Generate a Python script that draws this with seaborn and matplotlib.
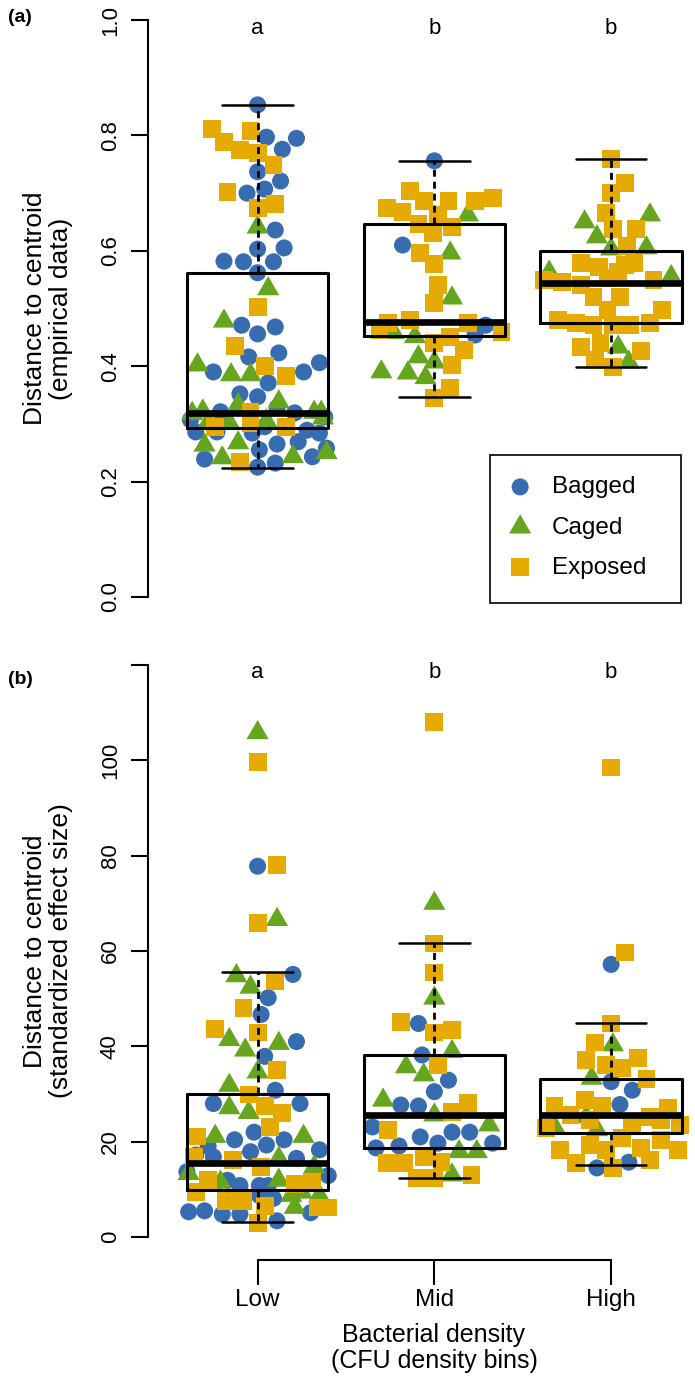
import pandas as pd
import seaborn as sns
import matplotlib.pyplot as plt
from matplotlib.patches import Rectangle

bins = ["Low", "Mid", "High"]
species = ["Bagged", "Caged", "Exposed"]
letters = ["a", "b", "b"]
colors = {"Bagged": "#386CB0", "Caged": "#66A61E", "Exposed": "#E6AB02"}

# (jitter offset, value) pairs
# panel (a): empirical data
a_low_bagged = [(0.00, 0.853), (0.05, 0.797), (0.22, 0.795), (0.14, 0.776), (0.00, 0.737), (0.13, 0.721),
                (0.04, 0.707), (-0.06, 0.700), (0.10, 0.636), (0.00, 0.603), (0.15, 0.605), (-0.19, 0.582),
                (-0.08, 0.581), (0.09, 0.581), (0.00, 0.562), (-0.09, 0.471), (0.00, 0.456), (0.10, 0.468),
                (-0.05, 0.416), (0.12, 0.423), (-0.25, 0.390), (0.26, 0.390), (0.35, 0.406), (0.06, 0.371),
                (-0.10, 0.352), (0.00, 0.347), (-0.21, 0.321), (0.11, 0.328), (0.21, 0.319), (-0.38, 0.307),
                (0.38, 0.312), (-0.35, 0.286), (-0.23, 0.286), (0.04, 0.295), (-0.03, 0.284), (0.28, 0.289),
                (0.35, 0.284), (0.11, 0.265), (0.23, 0.269), (0.01, 0.255), (0.39, 0.258), (-0.30, 0.239),
                (0.31, 0.243), (0.10, 0.232), (0.00, 0.225)]
a_low_caged = [(0.00, 0.641), (0.06, 0.534), (-0.19, 0.478), (-0.34, 0.402), (-0.15, 0.385), (-0.04, 0.385),
               (0.12, 0.338), (-0.11, 0.333), (-0.37, 0.318), (-0.31, 0.322), (0.32, 0.320), (0.36, 0.320),
               (-0.28, 0.302), (-0.16, 0.302), (0.05, 0.305), (0.37, 0.310), (-0.30, 0.263), (-0.11, 0.267),
               (-0.20, 0.241), (0.20, 0.243), (0.39, 0.250)]
a_low_exposed = [(-0.26, 0.811), (-0.04, 0.808), (-0.19, 0.789), (-0.10, 0.775), (0.00, 0.770), (0.09, 0.749),
                 (-0.17, 0.702), (0.00, 0.674), (0.10, 0.681), (0.00, 0.503), (-0.13, 0.435), (0.04, 0.400),
                 (0.16, 0.383), (-0.04, 0.321), (-0.04, 0.302), (-0.24, 0.295), (0.16, 0.295), (-0.10, 0.234)]
a_mid_bagged = [(0.00, 0.756), (-0.18, 0.610), (0.29, 0.471), (0.23, 0.454)]
a_mid_caged = [(0.19, 0.662), (0.09, 0.596), (0.10, 0.518), (-0.23, 0.458), (-0.11, 0.451), (-0.09, 0.416),
               (0.00, 0.407), (-0.15, 0.388), (-0.05, 0.380), (-0.30, 0.390)]
a_mid_exposed = [(-0.14, 0.704), (-0.27, 0.674), (-0.18, 0.667), (-0.06, 0.686), (0.08, 0.686), (0.23, 0.686),
                 (0.33, 0.692), (0.02, 0.662), (-0.09, 0.646), (0.10, 0.641), (-0.01, 0.631), (-0.08, 0.596),
                 (0.00, 0.577), (0.02, 0.541), (0.00, 0.510), (-0.26, 0.475), (-0.14, 0.480), (0.19, 0.475),
                 (0.38, 0.459), (0.09, 0.451), (-0.31, 0.463), (0.00, 0.440), (0.17, 0.428), (0.10, 0.402),
                 (0.09, 0.362), (0.00, 0.345)]
a_high_bagged = []
a_high_caged = [(-0.15, 0.650), (0.22, 0.662), (-0.08, 0.624), (0.00, 0.603), (0.20, 0.605), (-0.35, 0.563),
                (0.34, 0.555), (0.04, 0.433), (0.10, 0.407)]
a_high_exposed = [(0.00, 0.759), (0.08, 0.718), (0.00, 0.700), (-0.03, 0.666), (0.14, 0.638), (0.01, 0.638),
                  (0.09, 0.608), (-0.17, 0.579), (-0.07, 0.572), (0.08, 0.575), (0.13, 0.579), (-0.38, 0.549),
                  (-0.28, 0.546), (-0.17, 0.541), (-0.02, 0.553), (0.04, 0.563), (0.24, 0.549), (-0.10, 0.520),
                  (0.05, 0.520), (-0.02, 0.497), (0.29, 0.497), (-0.30, 0.480), (-0.20, 0.475), (-0.10, 0.471),
                  (0.01, 0.471), (0.11, 0.471), (0.22, 0.475), (-0.17, 0.433), (-0.06, 0.440), (0.17, 0.426),
                  (-0.09, 0.411), (0.01, 0.399)]

# panel (b): standardized effect size
b_low_bagged = [(0.00, 77.8), (0.20, 55.1), (0.06, 50.2), (0.02, 46.7), (0.22, 41.0), (0.04, 37.9),
                (0.10, 30.8), (-0.25, 28.0), (0.24, 28.0), (-0.02, 22.0), (-0.13, 20.4), (0.05, 19.3),
                (0.15, 20.4), (-0.28, 19.0), (-0.04, 17.9), (-0.25, 16.8), (0.22, 16.5), (0.35, 18.3),
                (-0.35, 17.2), (-0.40, 13.7), (0.40, 12.9), (-0.10, 10.8), (0.01, 10.8), (0.06, 10.8),
                (0.24, 10.8), (-0.17, 11.9), (0.01, 8.7), (0.09, 8.1), (-0.39, 5.3), (-0.30, 5.5),
                (-0.20, 4.8), (-0.10, 4.8), (0.11, 3.4), (0.30, 5.1)]
b_low_caged = [(0.00, 105.8), (0.11, 66.6), (-0.12, 54.8), (-0.04, 52.4), (-0.16, 41.4), (-0.07, 39.2),
               (0.12, 40.6), (0.00, 34.6), (-0.16, 31.8), (-0.16, 27.1), (-0.05, 26.1), (-0.24, 21.1),
               (0.26, 21.1), (0.12, 16.5), (-0.39, 13.3), (0.32, 14.7), (-0.26, 11.2), (-0.21, 11.5),
               (0.12, 11.9), (0.19, 8.7), (0.25, 9.4), (0.35, 8.7), (0.21, 6.2)]
b_low_exposed = [(0.00, 99.6), (0.11, 78.1), (0.00, 65.9), (0.10, 53.8), (-0.08, 48.0), (-0.24, 43.6),
                 (0.00, 42.9), (0.11, 35.0), (-0.05, 29.9), (0.04, 27.5), (0.14, 26.1), (0.07, 23.0),
                 (-0.34, 21.1), (-0.36, 16.8), (-0.14, 16.1), (0.02, 14.7), (-0.28, 11.9), (-0.35, 9.4),
                 (-0.18, 7.6), (-0.08, 7.6), (0.04, 6.5), (0.21, 11.2), (0.31, 11.5), (0.40, 6.2),
                 (0.34, 6.2), (0.00, 3.0)]
b_mid_bagged = [(-0.09, 44.8), (-0.07, 38.2), (0.08, 32.9), (0.00, 30.5), (-0.19, 27.7), (-0.09, 27.5),
                (-0.35, 23.1), (-0.08, 21.0), (0.02, 19.7), (0.10, 22.0), (0.20, 22.0), (-0.33, 18.7),
                (-0.20, 19.1), (0.33, 19.7)]
b_mid_caged = [(0.00, 70.0), (0.00, 50.1), (0.10, 38.9), (-0.16, 35.7), (-0.06, 34.0), (-0.29, 28.7),
               (0.00, 25.6), (0.31, 23.5), (0.14, 17.9), (0.24, 17.9), (0.10, 13.0)]
b_mid_exposed = [(0.00, 108.1), (0.00, 61.6), (0.00, 55.5), (-0.19, 45.2), (0.00, 42.9), (0.10, 43.4),
                 (0.02, 36.1), (0.19, 28.1), (0.10, 26.3), (-0.26, 22.5), (-0.27, 15.5), (-0.17, 15.5),
                 (-0.06, 16.8), (0.04, 15.8), (-0.10, 12.3), (0.00, 12.3), (0.21, 13.0)]
b_high_bagged = [(0.00, 57.2), (0.00, 32.6), (0.12, 30.8), (0.05, 27.8), (-0.08, 14.5), (0.10, 15.7)]
b_high_caged = [(0.01, 40.3), (-0.11, 33.3), (-0.14, 25.2), (-0.08, 22.5), (-0.32, 23.1)]
b_high_exposed = [(0.00, 98.5), (0.08, 59.7), (0.00, 44.8), (-0.09, 40.8), (-0.14, 37.1), (0.15, 37.5),
                  (-0.03, 36.1), (0.06, 35.4), (0.20, 33.2), (-0.32, 27.5), (-0.15, 28.7), (-0.05, 27.5),
                  (0.32, 27.0), (-0.23, 25.6), (0.22, 25.2), (-0.37, 22.9), (-0.29, 18.3), (-0.20, 15.5),
                  (-0.12, 19.3), (-0.03, 18.3), (0.06, 20.8), (0.17, 18.7), (0.28, 20.4), (0.38, 18.3),
                  (0.22, 16.2), (0.01, 14.5), (0.12, 23.5), (0.39, 23.5), (-0.12, 24.5), (0.28, 24.5)]

# box statistics (Low, Mid, High)
a_whislo = [0.224, 0.347, 0.399]
a_q1 = [0.293, 0.452, 0.474]
a_med = [0.319, 0.477, 0.544]
a_q3 = [0.562, 0.646, 0.600]
a_whishi = [0.853, 0.756, 0.759]

b_whislo = [3.2, 12.3, 15.1]
b_q1 = [9.9, 18.7, 21.8]
b_med = [15.5, 25.7, 25.6]
b_q3 = [30.0, 38.2, 33.2]
b_whishi = [55.5, 61.6, 44.8]


def points_frame(groups):
    rows = []
    for pos, bin_name in enumerate(bins, start=1):
        for sp, pts in zip(species, groups[pos - 1]):
            for dx, val in pts:
                rows.append({"bin": bin_name, "species": sp, "x": pos + dx, "value": val})
    return pd.DataFrame(rows)


df_a = points_frame([[a_low_bagged, a_low_caged, a_low_exposed],
                     [a_mid_bagged, a_mid_caged, a_mid_exposed],
                     [a_high_bagged, a_high_caged, a_high_exposed]])
df_b = points_frame([[b_low_bagged, b_low_caged, b_low_exposed],
                     [b_mid_bagged, b_mid_caged, b_mid_exposed],
                     [b_high_bagged, b_high_caged, b_high_exposed]])

sns.set_style("ticks")
plt.rcParams["font.family"] = ["Liberation Sans", "DejaVu Sans"]
plt.rcParams.update({"text.color": "black", "axes.labelcolor": "black", "axes.edgecolor": "black",
                     "xtick.color": "black", "ytick.color": "black"})

tri = [(-1, -0.577), (1, -0.577), (0, 1.155)]
markers = {"Bagged": "o", "Caged": tri, "Exposed": "s"}
sizes = {"Bagged": 150, "Caged": 340, "Exposed": 165}

W, H = 695, 1380
fig = plt.figure(figsize=(W / 100, H / 100), dpi=100)


def px_axes(left, top, right, bottom):
    return fig.add_axes([left / W, 1 - bottom / H, (right - left) / W, (bottom - top) / H])


ax_a = px_axes(148, -3, 720.7, 620)
ax_b = px_axes(148, 642.2, 720.7, 1259.9)


def draw_panel(ax, df, whislo, q1, med, q3, whishi):
    for sp in species:
        sub = df[df["species"] == sp]
        if sub.empty:
            continue
        sns.scatterplot(data=sub, x="x", y="value", color=colors[sp], marker=markers[sp],
                        s=sizes[sp], linewidth=0, edgecolor="none", legend=False,
                        label=sp, ax=ax, zorder=2)
    stats = [dict(med=m, q1=a, q3=b, whislo=lo, whishi=hi, fliers=[])
             for lo, a, m, b, hi in zip(whislo, q1, med, q3, whishi)]
    ax.bxp(stats, positions=[1, 2, 3], widths=0.8, capwidths=0.4, showfliers=False,
           manage_ticks=False, zorder=3,
           boxprops=dict(color="black", linewidth=2.2),
           medianprops=dict(color="black", linewidth=4.8, solid_capstyle="butt"),
           whiskerprops=dict(color="black", linewidth=2.0, linestyle=(0, (2.5, 1.8))),
           capprops=dict(color="black", linewidth=1.8))
    ax.set_xlim(0.38, 3.62)
    ax.set_xlabel("")
    sns.despine(ax=ax)
    ax.spines["left"].set_linewidth(1.5)
    ax.spines["bottom"].set_linewidth(1.5)
    ax.tick_params(axis="y", length=12.5, width=1.5, labelsize=16, labelrotation=90, pad=7)


draw_panel(ax_a, df_a, a_whislo, a_q1, a_med, a_q3, a_whishi)
draw_panel(ax_b, df_b, b_whislo, b_q1, b_med, b_q3, b_whishi)

# panel (a)
ax_a.set_ylim(-0.04, 1.04)
ax_a.set_yticks([0, 0.2, 0.4, 0.6, 0.8, 1.0])
ax_a.set_yticklabels(["0.0", "0.2", "0.4", "0.6", "0.8", "1.0"], va="center")
ax_a.spines["left"].set_bounds(0, 1.0)
ax_a.spines["bottom"].set_visible(False)
ax_a.set_xticks([])
ax_a.set_ylabel("Distance to centroid\n(empirical data)", fontsize=19, linespacing=1.1)
ax_a.yaxis.set_label_coords(-0.1746, 0.5)
ax_a.yaxis.label.set_va("center")
for i, letter in enumerate(letters):
    ax_a.text(i + 1, 0.986, letter, ha="center", va="center", fontsize=16)

# panel (b)
ax_b.set_ylim(-4.8, 124.8)
ax_b.set_yticks([0, 20, 40, 60, 80, 100, 120])
ax_b.set_yticklabels(["0", "20", "40", "60", "80", "100", ""], va="center")
ax_b.spines["left"].set_bounds(0, 120)
ax_b.spines["bottom"].set_bounds(1, 3)
ax_b.set_xticks([1, 2, 3])
ax_b.set_xticklabels(bins)
ax_b.tick_params(axis="x", length=18, width=1.5, labelsize=17.5, pad=3)
ax_b.set_ylabel("Distance to centroid\n(standardized effect size)", fontsize=19, linespacing=1.1)
ax_b.yaxis.set_label_coords(-0.1746, 0.5)
ax_b.yaxis.label.set_va("center")
ax_b.set_xlabel("Bacterial density\n(CFU density bins)", fontsize=18, linespacing=1.1)
ax_b.xaxis.set_label_coords((434 - 148) / 572.7, -0.1425)
ax_b.xaxis.label.set_va("center")
for i, letter in enumerate(letters):
    ax_b.text(i + 1, 118.5, letter, ha="center", va="center", fontsize=16)

fig.text(20 / W, 1 - 17 / H, "(a)", fontsize=14, fontweight="bold", ha="center", va="center")
fig.text(20 / W, 1 - 680 / H, "(b)", fontsize=14, fontweight="bold", ha="center", va="center")

# legend with a plain box
fig.add_artist(Rectangle((490 / W, 1 - 603 / H), 191 / W, 148 / H, transform=fig.transFigure,
                         fill=False, edgecolor="black", linewidth=1.2))
ax_a.legend(loc="center left", bbox_to_anchor=(508 / W, 1 - 527.5 / H), bbox_transform=fig.transFigure,
            frameon=False, fontsize=17.5, handlelength=1.0, handletextpad=0.81, labelspacing=0.75,
            borderpad=0, borderaxespad=0, scatterpoints=1)

fig.savefig("out.png", dpi=100)
